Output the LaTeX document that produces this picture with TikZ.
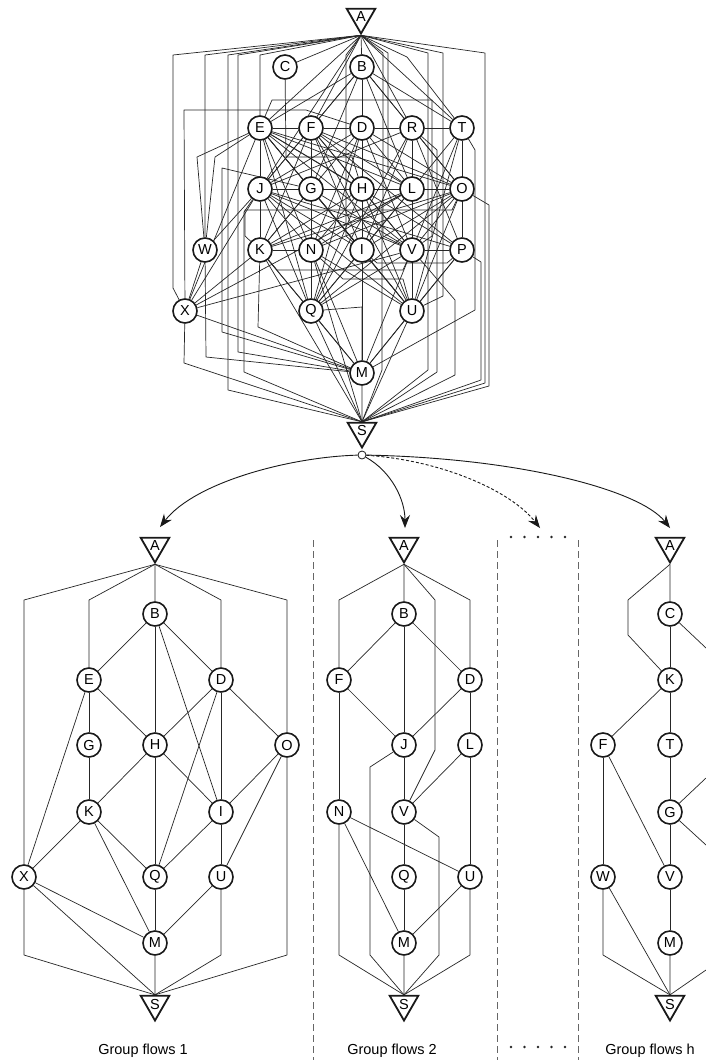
\documentclass[tikz,border=0pt]{standalone}
\usepackage{fontspec}
\setmainfont{Liberation Sans}
\usetikzlibrary{shapes.geometric,arrows.meta}
\pgfdeclarelayer{edges}
\pgfdeclarelayer{paper}
\pgfsetlayers{paper,edges,main}

\begin{document}
\begin{tikzpicture}[x=1pt,y=-1pt,
  vtx/.style={circle,draw=black!90,line width=1.6pt,minimum size=24pt,inner sep=0pt,fill=white,font=\fontsize{14.5}{16}\selectfont},
  term/.style={regular polygon,regular polygon sides=3,shape border rotate=180,draw=black!90,line width=1.8pt,minimum size=33pt,inner sep=0pt,fill=white,font=\fontsize{14.5}{16}\selectfont},
  ln/.style={line width=0.7pt,draw=black!85,line join=round},
  sep/.style={draw=black!60,line width=0.8pt,dash pattern=on 7pt off 4pt},
  flow/.style={line width=0.9pt,draw=black!90,-{Stealth[length=13pt,width=10pt,inset=4.5pt]}},
  grouplabel/.style={font=\fontsize{14.5}{16}\selectfont}
]
\begin{pgfonlayer}{paper}
\fill[white] (0,0) rectangle (706,1060);
\end{pgfonlayer}
\useasboundingbox (0,0) rectangle (706,1060);

% ---------- full network ----------
\node[term] (tA) at (361,17) {A};
\node[vtx] (tC) at (285,67) {C};
\node[vtx] (tB) at (362,67) {B};
\node[vtx] (tE) at (260,128) {E};
\node[vtx] (tF) at (311,128) {F};
\node[vtx] (tD) at (362,128) {D};
\node[vtx] (tR) at (412,128) {R};
\node[vtx] (tT) at (462,128) {T};
\node[vtx] (tJ) at (260,189) {J};
\node[vtx] (tG) at (311,189) {G};
\node[vtx] (tH) at (362,189) {H};
\node[vtx] (tL) at (412,189) {L};
\node[vtx] (tO) at (462,189) {O};
\node[vtx] (tW) at (205,250) {W};
\node[vtx] (tK) at (260,250) {K};
\node[vtx] (tN) at (311,250) {N};
\node[vtx] (tI) at (362,250) {I};
\node[vtx] (tV) at (412,250) {V};
\node[vtx] (tP) at (462,250) {P};
\node[vtx] (tX) at (185,311) {X};
\node[vtx] (tQ) at (311,311) {Q};
\node[vtx] (tU) at (412,311) {U};
\node[vtx] (tM) at (362,373) {M};
\node[term] (tS) at (362,431) {S};
\node[circle,draw=black!90,fill=white,line width=0.8pt,minimum size=8pt,inner sep=0pt] (hub) at (362,455) {};

\begin{pgfonlayer}{edges}
\foreach \a/\b in {
  tA.south/tC, tA.south/tE, tA.south/tF, tA.south/tB, tA.south/tR, tA.south/tT, tA.south/tJ,
  tB/tE, tB/tF, tB/tD, tB/tH, tB/tI, tB/tR, tB/tT, tB/tO, tB/tL, tB/tJ, tB/tG,
  tE/tF, tE/tJ, tE/tG, tE/tH, tE/tL, tE/tO, tE/tN, tE/tI, tE/tV, tE/tQ, tE/tP, tE/tU, tE/tX,
  tF/tD, tF/tJ, tF/tG, tF/tH, tF/tL, tF/tO, tF/tK, tF/tN, tF/tI, tF/tV, tF/tP, tF/tQ, tF/tU,
  tD/tJ, tD/tH, tD/tL, tD/tI, tD/tQ, tD/tO, tD/tR, tD/tV, tD/tN, tD/tK,
  tR/tT, tR/tO, tR/tV, tR/tL, tR/tI, tR/tP, tR/tQ, tR/tJ,
  tT/tO, tT/tV, tT/tP, tT/tL, tT/tU,
  tJ/tK, tJ/tN, tJ/tI, tJ/tV, tJ/tQ, tJ/tP, tJ/tU, tJ/tX, tJ/tW, tJ/tG, tJ/tL, tJ/tO,
  tG/tK, tG/tN, tG/tV, tG/tI, tG/tQ, tG/tU,
  tH/tK, tH/tI, tH/tQ, tH/tN, tH/tV, tH/tU,
  tL/tV, tL/tU, tL/tK, tL/tQ, tL/tN, tL/tI, tL/tX,
  tO/tI, tO/tV, tO/tU, tO/tP, tO/tQ, tO/tK, tO/tN,
  tW/tX, tK/tX, tK/tQ, tK/tM, tK/tN, tN/tQ, tN/tM, tN/tU, tI/tQ, tI/tU, tI/tM,
  tV/tQ, tV/tM, tV/tU, tV/tP, tP/tU, tP/tM, tX/tV, tX/tM, tQ/tM, tU/tM,
  tM/tS.north, tQ/tS.north, tU/tS.north, tN/tS.north, tK/tS.north}
  \draw[ln] (\a) -- (\b);
% routed flows of the full network
\draw[ln] (tA.south) -- (173,55) -- (173,288) -- (tX);
\draw[ln] (tA.south) -- (205,55) -- (tW);
\draw[ln] (tA.south) -- (228,55) -- (228,390) -- (tS.north);
\draw[ln] (tA.south) -- (238,55) -- (238,352) -- (tM);
\draw[ln] (tA.south) -- (260,55) -- (tE);
\draw[ln] (tA.south) -- (346,55) -- (346,236) -- (tI);
\draw[ln] (tA.south) -- (383,53) -- (383,236) -- (tV);
\draw[ln] (tA.south) -- (388,53) -- (388,172) -- (tL);
\draw[ln] (tA.south) -- (407,57) -- (tT);
\draw[ln] (tA.south) -- (428,53) -- (428,370) -- (tS.north);
\draw[ln] (tA.south) -- (443,53) -- (443,296) -- (tU);
\draw[ln] (tA.south) -- (485,53) -- (485,383) -- (tS.north);
\draw[ln] (tE) -- (197,157) -- (tW);
\draw[ln] (tE) -- (215,157) -- (tW);
\draw[ln] (tD) -- (306,110) -- (184,110) -- (tX);
\draw[ln] (tC) -- (286,157) -- (352,157) -- (tH);
\draw[ln] (tE) -- (272,100) -- (432,100) -- (432,236) -- (tV);
\draw[ln] (tK) -- (245,236) -- (245,210) -- (452,210) -- (tO);
\draw[ln] (tK) -- (277,270) -- (403,270) -- (tV);
\draw[ln] (tI) -- (377,263) -- (447,263) -- (tP);
\draw[ln] (tN) -- (343,279) -- (403,279) -- (tU);
\draw[ln] (tQ) -- (362,307) -- (tM);
\draw[ln] (tT) -- (475,150) -- (475,310) -- (tM);
\draw[ln] (tO) -- (489,205) -- (489,386) -- (tS.north);
\draw[ln] (tP) -- (481,262) -- (481,380) -- (tS.north);
\draw[ln] (tR) -- (437,150) -- (437,372) -- (tS.north);
\draw[ln] (tL) -- (382,205) -- (382,370) -- (tS.north);
\draw[ln] (tV) -- (455,300) -- (455,375) -- (tS.north);
\draw[ln] (tW) -- (206,357) -- (tM);
\draw[ln] (tK) -- (258,327) -- (tM);
\draw[ln] (tX) -- (184,363) -- (tS.north);
\draw[ln] (tJ) -- (244,212) -- (244,372) -- (tS.north);
\draw[ln] (tG) -- (222,168) -- (222,332) -- (tM);
\end{pgfonlayer}

% ---------- group flows 1 ----------
\node[term] (aA) at (155,546) {A};
\node[vtx] (aB) at (155,614) {B};
\node[vtx] (aE) at (89,680) {E};
\node[vtx] (aD) at (221,680) {D};
\node[vtx] (aG) at (89,745) {G};
\node[vtx] (aH) at (155,745) {H};
\node[vtx] (aO) at (287,745) {O};
\node[vtx] (aK) at (89,812) {K};
\node[vtx] (aI) at (221,812) {I};
\node[vtx] (aX) at (24,877) {X};
\node[vtx] (aQ) at (155,877) {Q};
\node[vtx] (aU) at (221,877) {U};
\node[vtx] (aM) at (155,943) {M};
\node[term] (aS) at (155,1004) {S};
\node[grouplabel] (aT) at (143,1051) {Group flows 1};

\begin{pgfonlayer}{edges}
\foreach \a/\b in {aA.south/aB, aB/aE, aB/aD, aB/aH, aB/aI, aE/aG, aE/aH, aE/aX,
  aD/aH, aD/aQ, aD/aI, aD/aO, aG/aK, aH/aK, aH/aI, aH/aQ, aO/aI, aO/aU,
  aK/aX, aK/aQ, aK/aM, aI/aQ, aI/aU, aX/aM, aX/aS.north, aQ/aM, aU/aM, aM/aS.north}
  \draw[ln] (\a) -- (\b);
\draw[ln] (aA.south) -- (24,600) -- (aX);
\draw[ln] (aA.south) -- (89,600) -- (aE);
\draw[ln] (aA.south) -- (221,600) -- (aD);
\draw[ln] (aA.south) -- (287,600) -- (aO);
\draw[ln] (aO) -- (287,955) -- (aS.north);
\draw[ln] (aX) -- (24,955) -- (aS.north);
\draw[ln] (aU) -- (221,955) -- (aS.north);
\end{pgfonlayer}

% ---------- group flows 2 ----------
\node[term] (bA) at (404,546) {A};
\node[vtx] (bB) at (404,614) {B};
\node[vtx] (bF) at (339,680) {F};
\node[vtx] (bD) at (470,680) {D};
\node[vtx] (bJ) at (404,745) {J};
\node[vtx] (bL) at (470,745) {L};
\node[vtx] (bN) at (339,812) {N};
\node[vtx] (bV) at (404,812) {V};
\node[vtx] (bQ) at (404,877) {Q};
\node[vtx] (bU) at (470,877) {U};
\node[vtx] (bM) at (404,943) {M};
\node[term] (bS) at (404,1004) {S};
\node[grouplabel] (bT) at (392,1051) {Group flows 2};

\begin{pgfonlayer}{edges}
\foreach \a/\b in {bA.south/bB, bB/bF, bB/bJ, bB/bD, bF/bJ, bD/bJ, bF/bN, bD/bL,
  bJ/bV, bL/bV, bL/bU, bN/bU, bN/bM, bV/bQ, bQ/bM, bU/bM, bM/bS.north}
  \draw[ln] (\a) -- (\b);
\draw[ln] (bA.south) -- (339,600) -- (bF);
\draw[ln] (bA.south) -- (435,600) -- (435,750) -- (bV);
\draw[ln] (bA.south) -- (470,600) -- (bD);
\draw[ln] (bJ) -- (370,767) -- (370,955) -- (bS.north);
\draw[ln] (bV) -- (439,837) -- (439,955) -- (bS.north);
\draw[ln] (bN) -- (339,955) -- (bS.north);
\draw[ln] (bU) -- (470,955) -- (bS.north);
\end{pgfonlayer}

% ---------- group flows h ----------
\node[term] (hA) at (670,546) {A};
\node[vtx] (hC) at (670,614) {C};
\node[vtx] (hK) at (670,680) {K};
\node[vtx] (hF) at (603,745) {F};
\node[vtx] (hT) at (670,745) {T};
\node[vtx] (hG) at (670,812) {G};
\node[vtx] (hW) at (603,877) {W};
\node[vtx] (hV) at (670,877) {V};
\node[vtx] (hM) at (670,943) {M};
\node[term] (hS) at (670,1004) {S};
\node[grouplabel] (hTx) at (650,1051) {Group flows h};
\coordinate (hc1) at (706,648);
\coordinate (hg1) at (706,778);
\coordinate (hg2) at (706,845);
\coordinate (hs1) at (706,970);

\begin{pgfonlayer}{edges}
\foreach \a/\b in {hA.south/hC, hC/hK, hK/hT, hT/hG, hG/hV, hV/hM, hM/hS.north,
  hC/hc1, hK/hF, hF/hW, hF/hV, hG/hg1, hG/hg2, hW/hS.north, hs1/hS.north}
  \draw[ln] (\a) -- (\b);
\draw[ln] (hA.south) -- (628,600) -- (628,635) -- (hK);
\draw[ln] (hW) -- (603,955) -- (hS.north);
\end{pgfonlayer}

% ---------- separators and the elided groups ----------
\draw[sep] (313,540) -- (313,1060);
\draw[sep] (497,540) -- (497,1060);
\draw[sep] (578,540) -- (578,1060);
\foreach \x in {511,524.5,538,551.5,565} {
  \fill[black!85] (\x,537) circle (1.4);
  \fill[black!85] (\x,1047) circle (1.4);
}

% ---------- decomposition arrows ----------
\coordinate (g1) at (160,527);
\coordinate (g2) at (405,528);
\coordinate (gd) at (540,528);
\coordinate (gh) at (670,528);
\draw[flow] (hub) .. controls (290,457) and (195,482) .. (g1);
\draw[flow] (hub) .. controls (392,472) and (405,500) .. (g2);
\draw[flow,dash pattern=on 3pt off 2pt] (hub) .. controls (440,460) and (510,490) .. (gd);
\draw[flow] (hub) .. controls (520,458) and (640,490) .. (gh);
\end{tikzpicture}
\end{document}
